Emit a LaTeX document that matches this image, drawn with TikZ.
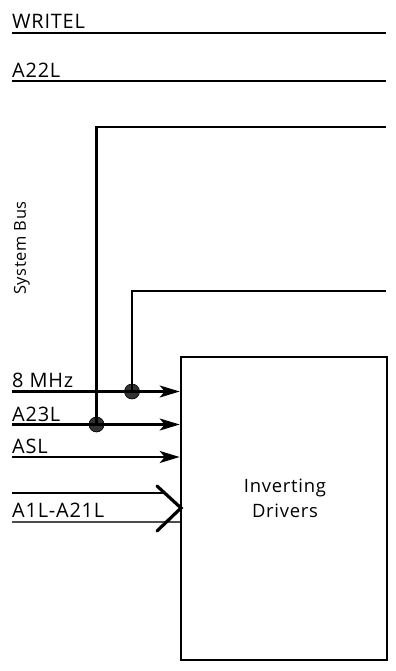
\documentclass[tikz,border=0pt]{standalone}
\usepackage{fontspec}
\setmainfont{Open Sans}[LetterSpace=4]
\usetikzlibrary{arrows.meta}
\begin{document}
\begin{tikzpicture}[x=1bp,y=-1bp,
  sig/.style={line width=2.2bp},
  arr/.style={sig,-{Stealth[length=20bp,width=12bp,inset=5bp]}},
  lbl/.style={anchor=base west,inner sep=0pt,font=\fontsize{20}{24}\selectfont},
  dot/.style={circle,fill=black!80,draw=black,line width=0.6bp,minimum size=15bp,inner sep=0pt},
  drvbox/.style={draw,line width=2.6bp,inner sep=0pt,minimum width=206bp,minimum height=303bp},
  drvtext/.style={align=center,inner sep=0pt,font=\fontsize{18.5}{25}\selectfont}]
\useasboundingbox (0,0) rectangle (395,671);
% top bus lines
\node[lbl] (wl) at (12,29) {WRITEL};
\coordinate (w0) at (12,33); \coordinate (w1) at (386,33);
\draw[sig] (w0) -- (w1);
\node[lbl] (al) at (12,78) {A22L};
\coordinate (a0) at (12,81); \coordinate (a1) at (386,81);
\draw[sig] (a0) -- (a1);
% system bus label
\node[rotate=90,inner sep=0pt,font=\fontsize{16.5}{20}\selectfont] (sb) at (22,248) {System Bus};
% box
\node[drvbox] (drv) at (284,508.5) {};
\node[drvtext] (drvt) at (285,498) {Inverting\\Drivers};
% junction dots
\node[dot] (d8) at (132,391.5) {};
\node[dot] (d23) at (96.5,424.5) {};
% labels
\node[lbl] (l8) at (12,387) {8 MHz};
\node[lbl] (l23) at (12,421) {A23L};
\node[lbl] (lasl) at (12,453) {ASL};
\node[lbl] (lbus) at (12,517) {A1L-A21L};
% verticals and long lines
\coordinate (t1) at (96.5,127); \coordinate (t1e) at (386,127);
\coordinate (t2) at (132,291); \coordinate (t2e) at (386,291);
\draw[sig] (d23.center) -- (t1) -- (t1e);
\draw[sig] (d8.center) -- (t2) -- (t2e);
% inputs
\coordinate (s8) at (12,391.5); \coordinate (e8) at (drv.west |- s8);
\coordinate (s23) at (12,424.5); \coordinate (e23) at (drv.west |- s23);
\coordinate (sasl) at (12,457); \coordinate (easl) at (drv.west |- sasl);
\draw[arr] (s8) -- (e8);
\draw[arr] (s23) -- (e23);
\draw[arr] (sasl) -- (easl);
% bus arrow
\coordinate (b0t) at (12,493); \coordinate (b1t) at (165,493);
\coordinate (b0b) at (12,522); \coordinate (b1b) at (drv.west |- b0b);
\coordinate (ch1) at (157,486); \coordinate (ch2) at (181,508); \coordinate (ch3) at (157,531);
\draw[line width=2.8bp] (b0t) -- (b1t);
\draw[line width=2.4bp,black!70] (b0b) -- (b1b);
\draw[line width=3.2bp,line join=miter,line cap=round] (ch1) -- (ch2) -- (ch3);
\end{tikzpicture}
\end{document}
